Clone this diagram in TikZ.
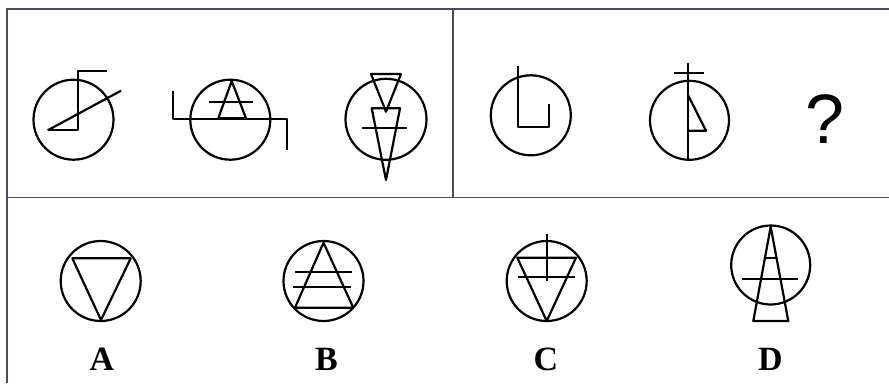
\documentclass[tikz,border=0pt]{standalone}
\usepackage{fontspec}
\setmainfont{Liberation Serif}
\newfontfamily\qfont{Liberation Sans}
\definecolor{framec}{RGB}{72,76,96}
\begin{document}
\begin{tikzpicture}[x=1pt,y=-1pt,
  frame/.style={draw=framec, line width=1.6pt},
  sym/.style={draw=black, line width=2.2pt, line join=round},
  lab/.style={font=\fontsize{34}{34}\selectfont\bfseries, anchor=base}]
\useasboundingbox (0,0) rectangle (889,383);
% frame
\draw[frame] (889,9) -- (7,9) -- (7,383);
\draw[frame] (7,197.5) -- (889,197.5);
\draw[frame] (453,9) -- (453,197.5);
% figure 1
\draw[sym] (73.5,119.7) circle[radius=40pt];
\draw[sym] (47.7,130.3) -- (77.7,130.3) -- (77.7,70.7) -- (107.3,70.7);
\draw[sym] (47.7,130.3) -- (121,90.7);
% figure 2
\draw[sym] (230.3,119.7) circle[radius=40pt];
\draw[sym] (231.7,81) -- (218.3,118.3) -- (246,118.3) -- cycle;
\draw[sym] (209.3,102.3) -- (253.3,102.3);
\draw[sym] (172.7,90.7) -- (172.7,119.3) -- (286.7,119.3) -- (286.7,150);
% figure 3
\draw[sym] (386,119.3) circle[radius=40.5pt];
\draw[sym] (371,74) -- (401,74) -- (386,111.7) -- cycle;
\draw[sym] (371.7,108.3) -- (400,108.3) -- (386,180) -- cycle;
\draw[sym] (362.3,128) -- (406.7,128);
% figure 4
\draw[sym] (530.8,115.3) circle[radius=40pt];
\draw[sym] (518.3,65.7) -- (518.3,126.7) -- (549,126.7) -- (549,104.3);
% figure 5
\draw[sym] (689.5,120.3) circle[radius=39.5pt];
\draw[sym] (688.3,62.7) -- (688.3,159.5);
\draw[sym] (674.3,72.7) -- (704.3,72.7);
\draw[sym] (688.3,95.7) -- (706,130.7) -- (688.3,130.7);
% question mark
\node[font=\qfont\fontsize{70}{70}\selectfont, anchor=base] (q) at (825,143.5) {?};
% option A
\draw[sym] (100.7,281) circle[radius=40pt];
\draw[sym] (72.3,258.3) -- (130.7,258.3) -- (101,320) -- cycle;
\node[lab] (la) at (102,370.5) {A};
% option B
\draw[sym] (323.5,281) circle[radius=40pt];
\draw[sym] (323.5,242.7) -- (295,307.7) -- (353.3,307.7) -- cycle;
\draw[sym] (295,272.3) -- (351.7,272.3);
\draw[sym] (293.3,286.7) -- (350.7,286.7);
\node[lab] (lb) at (326.5,370.5) {B};
% option C
\draw[sym] (546.7,281) circle[radius=40pt];
\draw[sym] (517.3,257.7) -- (576,257.7) -- (546.7,321) -- cycle;
\draw[sym] (546.7,234.3) -- (546.7,281);
\draw[sym] (518.3,276.7) -- (575,276.7);
\node[lab] (lc) at (546,370.5) {C};
% option D
\draw[sym] (770.7,265) circle[radius=39.5pt];
\draw[sym] (770.7,226.7) -- (753.3,321) -- (788.3,321) -- cycle;
\draw[sym] (766,258.3) -- (775.5,258.3);
\draw[sym] (741.7,278.7) -- (798.3,278.7);
\node[lab] (ld) at (770.5,370.5) {D};
\end{tikzpicture}
\end{document}
